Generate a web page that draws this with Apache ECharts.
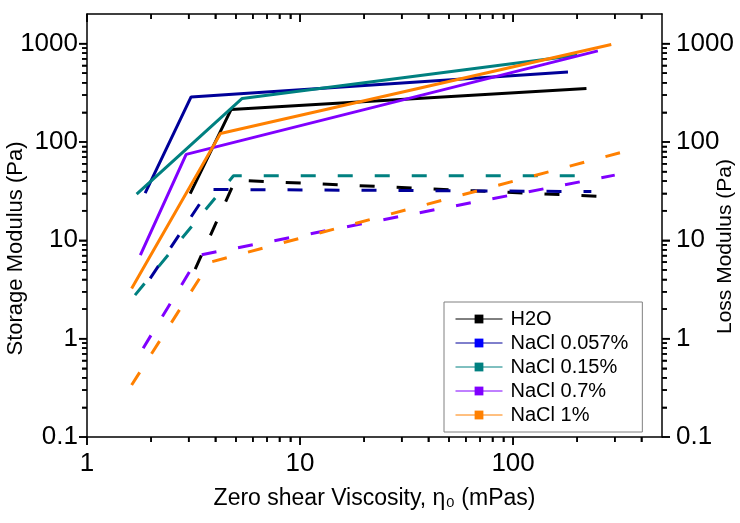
<!DOCTYPE html>
<html><head><meta charset="utf-8">
<script src="https://cdn.jsdelivr.net/npm/echarts@6/dist/echarts.min.js"></script>
<style>html,body{margin:0;padding:0;background:#fff}#c{width:740px;height:523px}</style>
</head><body><div id="c"></div>
<script>
// ---- data ----
const seriesNames = ['H2O', 'NaCl 0.057%', 'NaCl 0.15%', 'NaCl 0.7%', 'NaCl 1%'];
// storage modulus G' (solid lines, left axis)
const h2oStorageX = [3.05, 4.75, 221];
const h2oStorageY = [29.8, 214, 350];
const nacl0057StorageX = [1.875, 3.08, 181];
const nacl0057StorageY = [30.2, 287, 515];
const nacl015StorageX = [1.71, 5.35, 200];
const nacl015StorageY = [29.5, 277, 760];
const nacl07StorageX = [1.78, 2.92, 250];
const nacl07StorageY = [7.08, 74.7, 843];
const nacl1StorageX = [1.62, 4.23, 289];
const nacl1StorageY = [3.24, 122, 980];
// loss modulus G'' (dashed lines, right axis)
const h2oLossX = [3.22, 4.97, 279];
const h2oLossY = [5.1, 40.9, 27.7];
const nacl0057LossX = [1.98, 3.75, 233];
const nacl0057LossY = [4.1, 32.9, 31.3];
const nacl015LossX = [1.68, 4.87, 235];
const nacl015LossY = [2.77, 45.3, 45.3];
const nacl07LossX = [1.835, 3.38, 300];
const nacl07LossY = [0.80, 7.08, 46.0];
const nacl1LossX = [1.62, 3.77, 353];
const nacl1LossY = [0.338, 5.97, 82.6];
// axis ticks
const xMajorTicks = [1, 10, 100];
const xMinorTicks = [2, 3, 4, 5, 6, 7, 8, 9, 20, 30, 40, 50, 60, 70, 80, 90, 200, 300, 400];
const yMajorTicks = [0.1, 1, 10, 100, 1000];
const yMinorTicks = [0.2, 0.3, 0.4, 0.5, 0.6, 0.7, 0.8, 0.9, 2, 3, 4, 5, 6, 7, 8, 9,
  20, 30, 40, 50, 60, 70, 80, 90, 200, 300, 400, 500, 600, 700, 800, 900];
const xRange = [1, 500];
const yRange = [0.1, 2000];

// ---- styling ----
const lineColors = ['#000000', '#000099', '#008080', '#8000ff', '#ff8000'];
const markerColors = ['#000000', '#0000ff', '#008080', '#8000ff', '#ff8000'];
const storageX = [h2oStorageX, nacl0057StorageX, nacl015StorageX, nacl07StorageX, nacl1StorageX];
const storageY = [h2oStorageY, nacl0057StorageY, nacl015StorageY, nacl07StorageY, nacl1StorageY];
const lossX = [h2oLossX, nacl0057LossX, nacl015LossX, nacl07LossX, nacl1LossX];
const lossY = [h2oLossY, nacl0057LossY, nacl015LossY, nacl07LossY, nacl1LossY];
const zip = (xs, ys) => xs.map((x, i) => [x, ys[i]]);

const FONT = 'Liberation Sans, Arial, sans-serif';
const fmt = v => String(+(+v).toPrecision(3));

const series = [];
// storage (solid) first so the legend uses the solid style
seriesNames.forEach((n, i) => {
  series.push({
    name: n, type: 'line', xAxisIndex: 0, yAxisIndex: 0,
    data: zip(storageX[i], storageY[i]),
    symbol: 'rect', showSymbol: false, z: 3,
    itemStyle: { color: markerColors[i] },
    lineStyle: { color: lineColors[i], width: 3 }
  });
});
seriesNames.forEach((n, i) => {
  series.push({
    name: n, type: 'line', xAxisIndex: 0, yAxisIndex: 1,
    data: zip(lossX[i], lossY[i]),
    symbol: 'rect', showSymbol: false, z: 2,
    itemStyle: { color: markerColors[i] },
    lineStyle: { color: lineColors[i], width: 3, type: [15, 22], cap: 'butt' }
  });
});

// tick marks drawn as thin rect symbols placed through the axes' scales
function tickMarks(data, size, offset) {
  return {
    type: 'scatter', xAxisIndex: 0, yAxisIndex: 0, clip: false, z: 20,
    data: data, symbol: 'rect', symbolSize: size, symbolOffset: offset,
    itemStyle: { color: '#000', opacity: 1 }, emphasis: { disabled: true }
  };
}
series.push(tickMarks(xMinorTicks.map(v => [v, yRange[0]]), [1.5, 5], [0, 2.5]));
series.push(tickMarks(xMajorTicks.map(v => [v, yRange[0]]), [1.5, 8], [0, 4]));
series.push(tickMarks(xMinorTicks.map(v => [v, yRange[1]]), [1.5, 5], [0, 2.5]));
series.push(tickMarks(xMajorTicks.map(v => [v, yRange[1]]), [1.5, 8], [0, 4]));
series.push(tickMarks(yMinorTicks.map(v => [xRange[0], v]), [5, 1.5], [-2.5, 0]));
series.push(tickMarks(yMajorTicks.map(v => [xRange[0], v]), [8, 1.5], [-4, 0]));
series.push(tickMarks(yMinorTicks.map(v => [xRange[1], v]), [5, 1.5], [2.5, 0]));
series.push(tickMarks(yMajorTicks.map(v => [xRange[1], v]), [8, 1.5], [4, 0]));

const axisLineDef = () => ({ show: true, lineStyle: { color: '#000', width: 1.5 } });
const majorTick = (ticks, inside) => ({ show: true, inside: !!inside, length: 8, customValues: ticks, lineStyle: { color: '#000', width: 1.5 } });
const minorTickDef = () => ({ show: true, splitNumber: 9, length: 5, lineStyle: { color: '#000', width: 1.5 } });

const option = {
  animation: false,
  backgroundColor: '#fff',
  grid: { left: 87, right: 78, top: 14, bottom: 86, containLabel: false, outerBoundsMode: 'none' },
  legend: {
    data: seriesNames, orient: 'vertical', left: 444, top: 302,
    padding: [7, 14, 7, 11],
    itemGap: 4, itemWidth: 47, itemHeight: 11,
    borderColor: '#808080', borderWidth: 1,
    lineStyle: { width: 1 },
    textStyle: { fontFamily: FONT, fontSize: 20, lineHeight: 20, color: '#000', padding: [0, 0, 0, 3] },
    selectedMode: false
  },
  xAxis: [{
    type: 'log', min: xRange[0], max: xRange[1], position: 'bottom',
    axisLine: axisLineDef(), splitLine: { show: false },
    axisTick: majorTick(xMajorTicks, false), minorTick: minorTickDef(),
    axisLabel: { customValues: xMajorTicks, formatter: fmt, margin: 14, fontFamily: FONT, fontSize: 26, color: '#000' },
    name: 'Zero shear Viscosity, η\u2080 (mPas)',
    nameLocation: 'middle', nameGap: 50, nameMoveOverlap: false,
    nameTextStyle: { fontFamily: FONT, fontSize: 23, color: '#000' }
  }, {
    type: 'log', min: xRange[0], max: xRange[1], position: 'top',
    axisLine: axisLineDef(), splitLine: { show: false },
    axisTick: majorTick(xMajorTicks, true), minorTick: Object.assign(minorTickDef(), { inside: true }),
    axisLabel: { show: false }
  }],
  yAxis: [{
    type: 'log', min: yRange[0], max: yRange[1], position: 'left',
    axisLine: axisLineDef(), splitLine: { show: false },
    axisTick: majorTick(yMajorTicks, false), minorTick: minorTickDef(),
    axisLabel: { customValues: yMajorTicks, formatter: fmt, margin: 9, fontFamily: FONT, fontSize: 26, color: '#000' },
    name: 'Storage Modulus (Pa)', nameLocation: 'middle', nameGap: 60, nameMoveOverlap: false,
    nameTextStyle: { fontFamily: FONT, fontSize: 22, color: '#000', padding: [0, 46, 0, 0] }
  }, {
    type: 'log', min: yRange[0], max: yRange[1], position: 'right',
    axisLine: axisLineDef(), splitLine: { show: false },
    axisTick: majorTick(yMajorTicks, false), minorTick: minorTickDef(),
    axisLabel: { customValues: yMajorTicks, formatter: fmt, margin: 14, fontFamily: FONT, fontSize: 26, color: '#000' },
    name: 'Loss Modulus (Pa)', nameLocation: 'middle', nameGap: 53, nameMoveOverlap: false,
    nameTextStyle: { fontFamily: FONT, fontSize: 21, color: '#000', padding: [0, 42, 0, 0] }
  }],
  series: series
};
const chart = echarts.init(document.getElementById('c'), null, { renderer: 'canvas' });
chart.setOption(option);
</script></body></html>
